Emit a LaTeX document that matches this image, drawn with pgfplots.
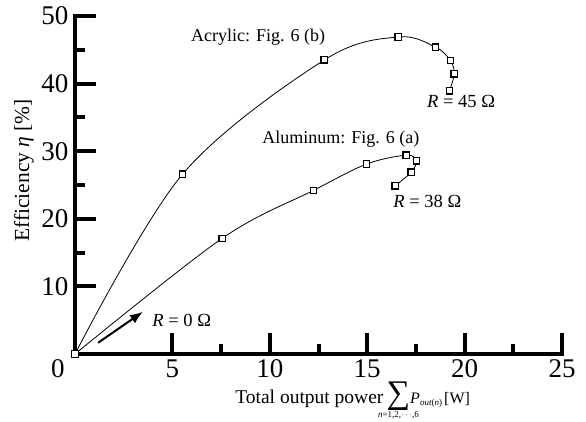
\documentclass[border=0pt]{standalone}
\usepackage{fontspec}
\setmainfont{Liberation Serif}
\usepackage{pgfplots}
\pgfplotsset{compat=1.18}
\usetikzlibrary{arrows.meta}
\begin{document}
\begin{tikzpicture}
\useasboundingbox (-75pt,-67pt) rectangle (511pt,354pt);
\begin{axis}[
  at={(0,0)}, anchor=south west,
  scale only axis, width=487pt, height=338pt,
  xmin=0, xmax=25, ymin=0, ymax=50,
  axis x line=bottom, axis y line=left,
  axis line style={black, -, line width=3.6pt, line cap=rect},
  xtick={5,10,15,20,25}, ytick={10,20,30,40,50},
  minor tick num=1,
  tick align=inside,
  major tick length=21pt, minor tick length=10pt,
  every tick/.append style={black, line width=4pt},
  extra x ticks={0}, extra x tick style={major tick length=0pt, xticklabel style={xshift=-17pt}},
  /pgf/number format/assume math mode=true,
  ticklabel style={font=\fontsize{27}{30}\selectfont},
  xticklabel style={yshift=-2pt},
  yticklabel style={xshift=-3pt},
  xlabel={Total output power\,$\mathop{\mbox{\fontsize{33}{33}\selectfont ∑}}\limits_{\makebox[0pt]{\fontsize{9}{9}\selectfont\textit{n}=1,2,$\cdots$,6}}$\mbox{\fontsize{16}{16}\selectfont\textit{P}}\raisebox{-2.5pt}{\mbox{\fontsize{9}{9}\selectfont\textit{out}(\textit{n})}}\hspace{2pt}\mbox{\fontsize{16}{16}\selectfont[W]}},
  xlabel style={font=\fontsize{19.5}{22}\selectfont, at={(axis description cs:0.322,-0.145)}, anchor=base west},
  ylabel={Efficiency \textit{η} [\%]},
  ylabel style={font=\fontsize{21.5}{24}\selectfont, at={(axis description cs:-0.105,0.543)}, anchor=center},
  clip=false,
]
\addplot[black, line width=0.8pt, smooth, tension=0.55, mark=square*, mark size=3.2pt,
  mark options={fill=white, line width=1.3pt}]
  coordinates {(0,0) (5.52,26.6) (12.8,43.5) (16.59,46.9) (18.5,45.4) (19.27,43.4) (19.47,41.45) (19.22,38.95)};
\addplot[black, line width=0.8pt, smooth, tension=0.55, mark=square*, mark size=3.2pt,
  mark options={fill=white, line width=1.3pt}]
  coordinates {(0,0) (7.55,17.1) (12.24,24.2) (14.97,28.1) (17.0,29.4) (17.53,28.6) (17.26,26.9) (16.44,24.9)};
\node[font=\fontsize{18}{20}\selectfont] at (axis cs:9.4,46.8) {Acrylic: Fig. 6 (b)};
\node[font=\fontsize{18}{20}\selectfont] at (axis cs:13.65,31.8) {Aluminum: Fig. 6 (a)};
\node[font=\fontsize{18.5}{20}\selectfont] at (axis cs:19.82,37.3) {\textit{R} = 45 Ω};
\node[font=\fontsize{18.5}{20}\selectfont] at (axis cs:18.09,22.5) {\textit{R} = 38 Ω};
\node[font=\fontsize{18.5}{20}\selectfont] at (axis cs:5.48,5.0) {\textit{R} = 0 Ω};
\draw[line width=2pt, -{Latex[length=13pt,width=10pt]}] (axis cs:1.19,1.67) -- (axis cs:3.49,6.25);
\end{axis}
\end{tikzpicture}
\end{document}
